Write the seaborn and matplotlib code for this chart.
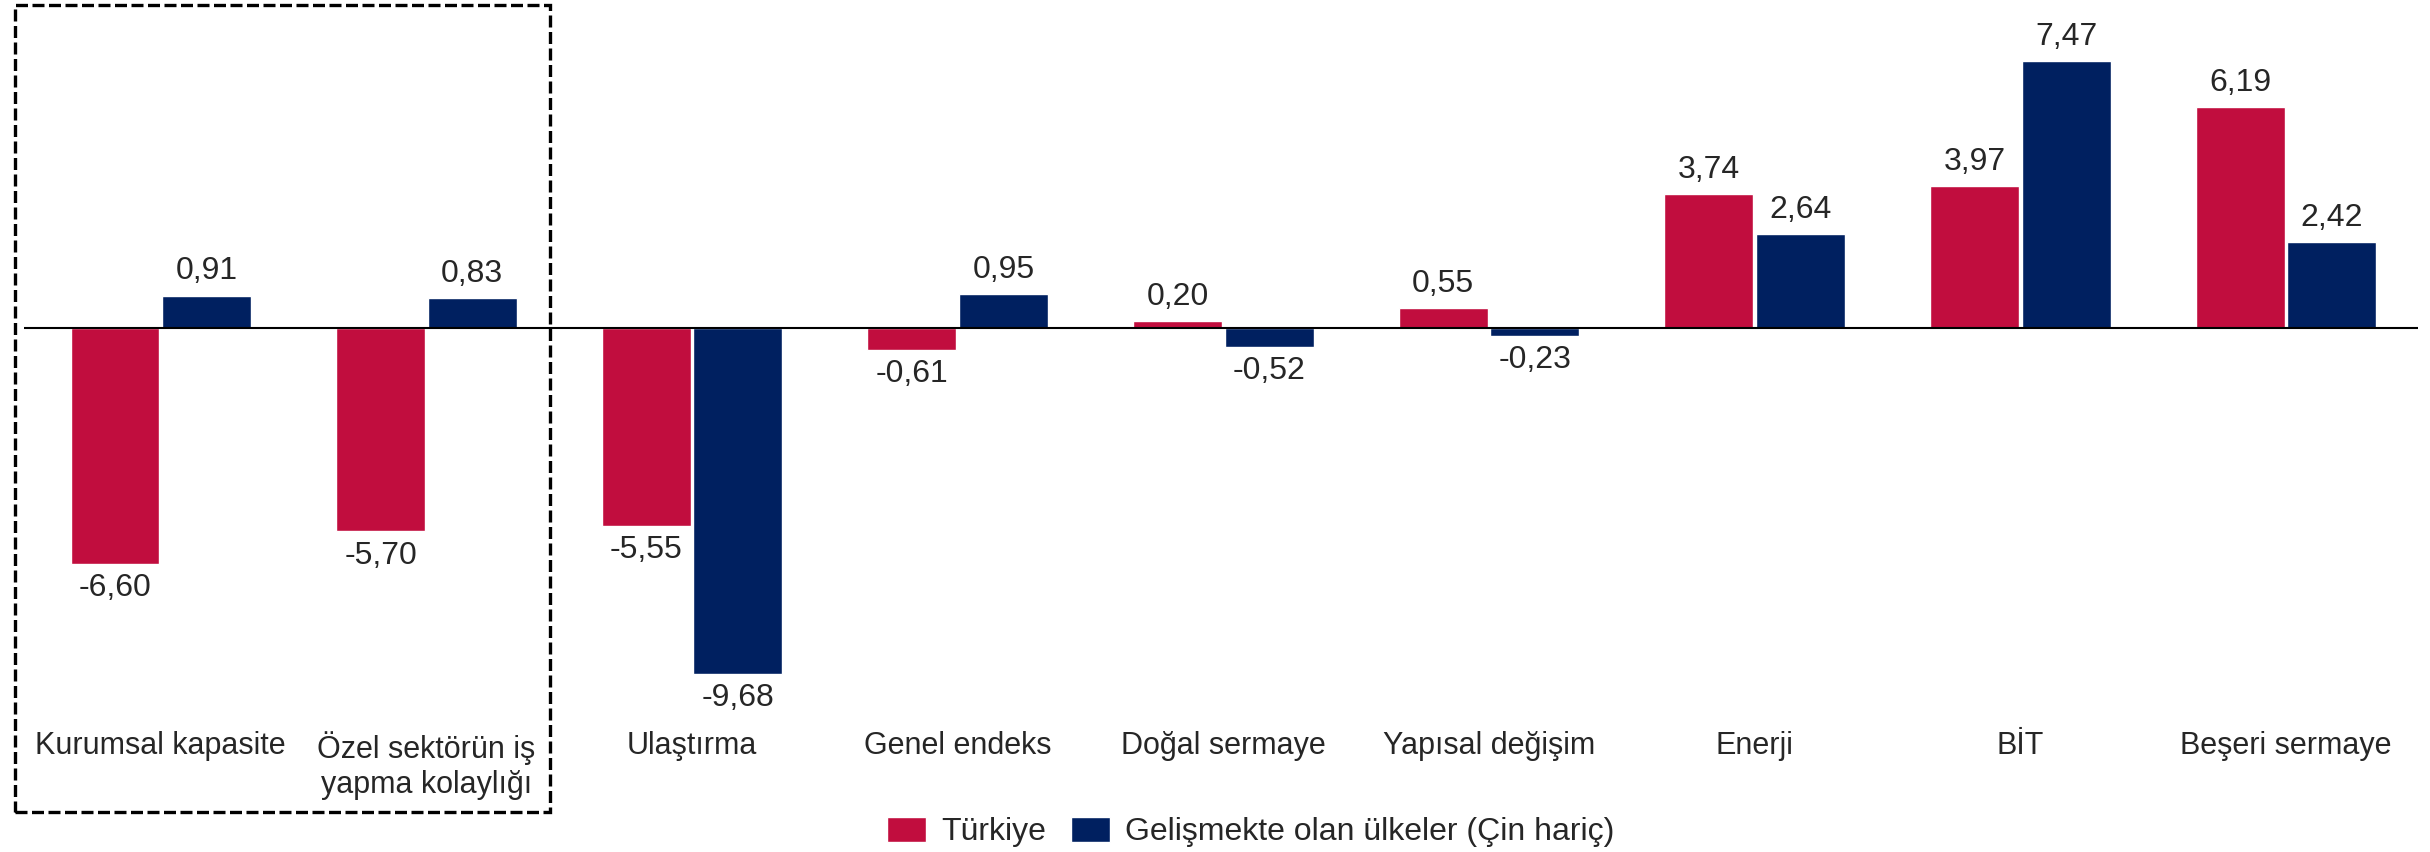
import matplotlib
matplotlib.use("Agg")
import matplotlib.pyplot as plt
from matplotlib.patches import Rectangle
import pandas as pd
import seaborn as sns

categories = [
    "Kurumsal kapasite",
    "Özel sektörün iş\nyapma kolaylığı",
    "Ulaştırma",
    "Genel endeks",
    "Doğal sermaye",
    "Yapısal değişim",
    "Enerji",
    "BİT",
    "Beşeri sermaye",
]
series_names = ["Türkiye", "Gelişmekte olan ülkeler (Çin hariç)"]
turkiye_values = [-6.60, -5.70, -5.55, -0.61, 0.20, 0.55, 3.74, 3.97, 6.19]
developing_values = [0.91, 0.83, -9.68, 0.95, -0.52, -0.23, 2.64, 7.47, 2.42]
series_colors = ["#C10D3E", "#002060"]

sns.set_style("white")
plt.rcParams["font.family"] = ["Liberation Sans", "DejaVu Sans"]

W, H = 2430, 852
fig = plt.figure(figsize=(W / 100, H / 100), dpi=100)
ax = fig.add_axes([24 / W, 132 / H, 2394 / W, 700 / H])

df = pd.DataFrame({
    "category": categories * 2,
    "series": [series_names[0]] * len(categories) + [series_names[1]] * len(categories),
    "value": turkiye_values + developing_values,
})

sns.barplot(
    data=df,
    x="category",
    y="value",
    hue="series",
    hue_order=series_names,
    order=categories,
    palette=dict(zip(series_names, series_colors)),
    saturation=1,
    width=0.69,
    gap=0.03,
    errorbar=None,
    ax=ax,
)

for container in ax.containers:
    labels = [f"{bar.get_height():.2f}".replace(".", ",") for bar in container]
    ax.bar_label(container, labels=labels, padding=6.5, fontsize=23)

ax.axhline(0, color="black", lw=1.5, zorder=3)
ax.set_xlim(-0.515, 8.497)
ax.set_ylim(-10.98, 8.627)
ax.set_xlabel("")
ax.set_ylabel("")
ax.set_yticks([])
ax.tick_params(axis="x", length=0, pad=8, labelsize=22)
for spine in ax.spines.values():
    spine.set_visible(False)

handles, labels = ax.get_legend_handles_labels()
ax.get_legend().remove()
fig.legend(
    handles,
    labels,
    loc="center",
    bbox_to_anchor=(1251 / W, 1 - 832 / H),
    ncol=2,
    frameon=False,
    fontsize=23,
    handlelength=1.22,
    handleheight=0.85,
    handletextpad=0.47,
    columnspacing=0.78,
)

# dashed frame around the first two categories
fig.add_artist(Rectangle(
    (15 / W, 1 - 812 / H),
    (550 - 15) / W,
    (812 - 5) / H,
    transform=fig.transFigure,
    fill=False,
    edgecolor="black",
    lw=2.4,
    linestyle=(0, (3.6, 1.35)),
))

fig.savefig("out.png", dpi=100)
